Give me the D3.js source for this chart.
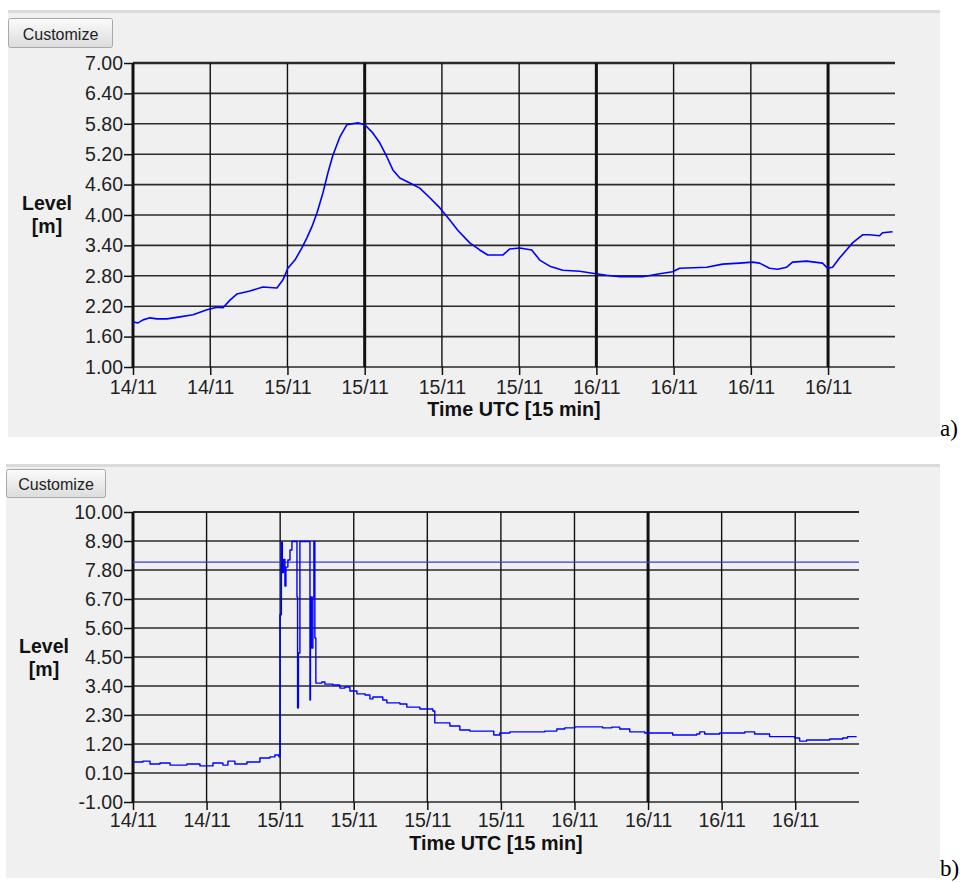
<!DOCTYPE html>
<html>
<head>
<meta charset="utf-8">
<script src="https://cdn.jsdelivr.net/npm/d3@7"></script>
<style>
  body { margin: 0; background: #fff; }
  #container { width: 960px; height: 882px; }
</style>
</head>
<body>
<div id="container"></div>
<script>
/**
 *
 * 数据
 *
 */
// 横轴刻度：每 6 小时一个刻度，单位为小时（从起点开始计）
const xTickHours = [0, 6, 12, 18, 24, 30, 36, 42, 48, 54];
const xTickLabels = ["14/11", "14/11", "15/11", "15/11", "15/11", "15/11", "16/11", "16/11", "16/11", "16/11"];
const xEnd = 59.2; // 横轴终点（小时）

// 图 a) 水位
const yTicksA = [1.0, 1.6, 2.2, 2.8, 3.4, 4.0, 4.6, 5.2, 5.8, 6.4, 7.0];
const hoursA = [
  0.00, 0.39, 0.78, 1.32, 1.86, 2.64, 3.65, 4.66, 5.75, 6.52, 6.99, 7.53, 8.07, 9.08,
  10.09, 11.18, 11.65, 12.03, 12.58, 13.12, 13.51, 13.90, 14.29, 14.75, 15.14, 15.53,
  16.07, 16.61, 17.47, 18.01, 18.63, 19.18, 19.72, 20.19, 20.73, 21.51, 22.28, 23.06,
  23.84, 24.61, 25.23, 26.16, 26.94, 27.56, 28.73, 29.27, 30.05, 30.98, 31.60, 32.38,
  33.39, 34.70, 35.71, 36.80, 37.81, 39.60, 40.92, 41.93, 42.47, 44.57, 45.81, 47.13,
  48.14, 48.68, 49.46, 50.08, 50.78, 51.24, 52.33, 53.57, 53.96, 54.35, 54.89, 55.43,
  55.90, 56.68, 57.22, 58.00, 58.23, 59.01
];
const levelA = [
  1.89, 1.87, 1.93, 1.97, 1.95, 1.95, 1.99, 2.03, 2.13, 2.18, 2.17, 2.32, 2.44, 2.50,
  2.58, 2.56, 2.72, 2.95, 3.11, 3.35, 3.55, 3.77, 4.04, 4.43, 4.83, 5.18,
  5.54, 5.78, 5.82, 5.78, 5.62, 5.42, 5.15, 4.89, 4.73, 4.63, 4.53, 4.34,
  4.14, 3.90, 3.70, 3.45, 3.31, 3.21, 3.21, 3.33, 3.35, 3.31, 3.11, 2.99,
  2.91, 2.89, 2.85, 2.81, 2.78, 2.78, 2.84, 2.88, 2.95, 2.97, 3.03, 3.05,
  3.07, 3.05, 2.95, 2.93, 2.97, 3.07, 3.09, 3.05, 2.95, 2.97, 3.15, 3.31,
  3.45, 3.61, 3.61, 3.59, 3.65, 3.67
];

// 图 b) 水位（含异常尖峰）
const yTicksB = [-1.0, 0.1, 1.2, 2.3, 3.4, 4.5, 5.6, 6.7, 7.8, 8.9, 10.0];
const thresholdB = 8.1;
const hoursB = [
  0.00, 0.81, 1.39, 2.20, 3.02, 4.40, 5.46, 6.52, 7.33, 7.74, 8.31, 9.29, 10.35, 11.17,
  11.57, 11.90, 11.98, 12.10, 12.18, 12.27, 12.39, 12.47, 12.63, 12.80, 12.96, 13.37,
  13.42, 13.49, 13.61, 14.43, 14.47, 14.55, 14.67, 14.75, 14.83, 14.91, 15.40, 15.65,
  16.30, 16.87, 17.28, 17.69, 18.26, 18.92, 19.32, 19.56, 20.37, 20.70, 21.76, 22.33,
  23.39, 24.45, 24.61, 25.26, 25.84, 26.65, 27.47, 29.10, 29.42, 29.91, 30.73, 33.58,
  34.56, 35.21, 36.02, 38.30, 39.04, 39.69, 40.51, 41.73, 44.01, 45.97, 46.21, 46.62,
  47.84, 49.88, 50.69, 51.91, 53.95, 54.36, 54.93, 56.81, 57.87, 58.27, 59.01
];
const levelB = [
  0.52, 0.55, 0.44, 0.48, 0.40, 0.44, 0.37, 0.48, 0.40, 0.55, 0.44, 0.52, 0.67, 0.71,
  0.78, 0.71, 6.10, 8.85, 7.70, 8.20, 7.19, 7.91, 8.18, 8.56, 8.88, 6.78,
  2.57, 4.65, 8.88, 2.87, 6.78, 4.84, 6.78, 8.88, 5.22, 3.51, 3.55, 3.47,
  3.44, 3.32, 3.36, 3.21, 3.10, 3.06, 2.91, 2.98, 2.87, 2.76, 2.72, 2.60,
  2.53, 2.45, 2.00, 2.00, 1.88, 1.73, 1.69, 1.69, 1.54, 1.62, 1.66, 1.69,
  1.77, 1.81, 1.85, 1.81, 1.84, 1.77, 1.66, 1.62, 1.54, 1.58, 1.66, 1.58,
  1.62, 1.66, 1.58, 1.48, 1.43, 1.31, 1.35, 1.39, 1.43, 1.48, 1.48
];

/**
 *
 * 绘制一个面板（背景、按钮、网格、坐标轴、曲线）
 *
 */
function LevelChart(svg, hours, levels, {
  panel, // 面板背景 [x0, y0, x1, y1]
  button, // 按钮 [x0, y0, x1, y1]
  plot, // 绘图区 {left, right, top, bottom}
  yTicks,
  majorX = [], // 较粗的竖向网格线（索引）
  curve = d3.curveLinear,
  threshold,
  levelX, // 纵轴标题位置
  levelY,
  tickLabelY = 27, // 横轴刻度值基线（相对于轴线）
  titleY, // 横轴标题基线
  tag, // a) / b)
  tagY,
  lineWidth = 1.6,
  gridWidth = 1.6,
  topWidth = 2.5
}) {
  const font = "'Liberation Sans', Arial, sans-serif";
  const g = svg.append("g");

  // 面板背景
  g.append("rect")
    .attr("x", panel[0]).attr("y", panel[1])
    .attr("width", panel[2] - panel[0]).attr("height", panel[3] - panel[1])
    .attr("fill", "#f0f0f0");
  g.append("rect")
    .attr("x", panel[0]).attr("y", panel[1])
    .attr("width", panel[2] - panel[0]).attr("height", 3)
    .attr("fill", "#dadada");

  // Customize 按钮
  g.append("rect")
    .attr("x", button[0] + 0.5).attr("y", button[1] + 0.5)
    .attr("width", button[2] - button[0] - 1).attr("height", button[3] - button[1] - 1)
    .attr("rx", 2)
    .attr("fill", "url(#btnGrad)")
    .attr("stroke", "#a9a9a9");
  g.append("text")
    .attr("x", (button[0] + button[2]) / 2)
    .attr("y", button[3] - 8)
    .attr("text-anchor", "middle")
    .attr("font-family", font)
    .attr("font-size", 16)
    .attr("fill", "#222")
    .text("Customize");

  // 比例尺
  const x = d3.scaleLinear([0, xEnd], [plot.left, plot.right]);
  const y = d3.scaleLinear(d3.extent(yTicks), [plot.bottom, plot.top]);

  // 水平网格线
  g.append("g")
    .selectAll("line")
    .data(yTicks)
    .join("line")
    .attr("x1", plot.left).attr("x2", plot.right)
    .attr("y1", (d) => y(d)).attr("y2", (d) => y(d))
    .attr("stroke", "#2a2a2a")
    .attr("stroke-width", (d, i) => (i === yTicks.length - 1 ? topWidth : gridWidth));

  // 竖向网格线
  g.append("g")
    .selectAll("line")
    .data(xTickHours)
    .join("line")
    .attr("x1", (d) => x(d)).attr("x2", (d) => x(d))
    .attr("y1", plot.top).attr("y2", plot.bottom)
    .attr("stroke", "#111")
    .attr("stroke-width", (d, i) => (i === 0 || majorX.includes(i) ? 3 : 1.4));

  // 纵坐标轴（刻度值用普通连字符作负号）
  g.append("g")
    .attr("transform", `translate(${plot.left},0)`)
    .call(d3.axisLeft(y).tickValues(yTicks).tickFormat((d) => d.toFixed(2)).tickSize(9).tickPadding(1))
    .call((g) => g.select(".domain").remove())
    .attr("font-family", font)
    .attr("font-size", 19.5)
    .call((g) => g.selectAll(".tick line").attr("stroke", "#111").attr("stroke-width", 1.5))
    .call((g) => g.selectAll(".tick text").attr("fill", "#222"));

  // 横坐标轴
  g.append("g")
    .attr("transform", `translate(0,${plot.bottom})`)
    .call(d3.axisBottom(x).tickValues(xTickHours).tickFormat((d, i) => xTickLabels[i]).tickSize(8))
    .call((g) => g.select(".domain").remove())
    .attr("font-family", font)
    .attr("font-size", 19.5)
    .call((g) => g.selectAll(".tick line").attr("stroke", "#111").attr("stroke-width", 1.5))
    .call((g) => g.selectAll(".tick text").attr("fill", "#222").attr("y", tickLabelY).attr("dy", null));

  // 阈值线
  if (threshold != null)
    g.append("line")
      .attr("x1", plot.left).attr("x2", plot.right)
      .attr("y1", y(threshold)).attr("y2", y(threshold))
      .attr("stroke", "#3b3bd6")
      .attr("stroke-width", 1.2);

  // 曲线
  const I = d3.range(hours.length);
  const line = d3.line()
    .curve(curve)
    .x((i) => x(hours[i]))
    .y((i) => y(levels[i]));
  g.append("path")
    .attr("fill", "none")
    .attr("stroke", "#0000ff")
    .attr("stroke-width", lineWidth)
    .attr("stroke-linejoin", "round")
    .attr("d", line(I));

  // 坐标轴标题
  g.append("text")
    .attr("x", (plot.left + plot.right) / 2)
    .attr("y", titleY)
    .attr("text-anchor", "middle")
    .attr("font-family", font)
    .attr("font-weight", "bold")
    .attr("font-size", 19.8)
    .attr("fill", "#111")
    .text("Time UTC [15 min]");
  const lv = g.append("text")
    .attr("text-anchor", "middle")
    .attr("font-family", font)
    .attr("font-weight", "bold")
    .attr("font-size", 19.5)
    .attr("fill", "#111");
  lv.append("tspan").attr("x", levelX).attr("y", levelY).text("Level");
  lv.append("tspan").attr("x", levelX).attr("y", levelY + 23).text("[m]");

  // 图编号
  g.append("text")
    .attr("x", 940)
    .attr("y", tagY)
    .attr("font-family", "'Liberation Serif', 'Times New Roman', serif")
    .attr("font-size", 23)
    .attr("fill", "#000")
    .text(tag);
}

/**
 *
 * 创建 svg
 *
 */
const width = 960;
const height = 882;
const svg = d3
  .select("#container")
  .append("svg")
  .attr("width", width)
  .attr("height", height)
  .attr("viewBox", [0, 0, width, height]);

// 按钮的渐变
const grad = svg.append("defs").append("linearGradient")
  .attr("id", "btnGrad")
  .attr("x1", 0).attr("y1", 0).attr("x2", 0).attr("y2", 1);
grad.append("stop").attr("offset", "0%").attr("stop-color", "#fbfbfb");
grad.append("stop").attr("offset", "100%").attr("stop-color", "#dcdcdc");

LevelChart(svg, hoursA, levelA, {
  panel: [8, 10, 940, 437],
  button: [8, 18, 113, 48],
  plot: { left: 133, right: 895, top: 63, bottom: 367 },
  yTicks: yTicksA,
  majorX: [3, 6, 9],
  levelX: 47,
  levelY: 210,
  titleY: 416,
  tag: "a)",
  tagY: 436
});

LevelChart(svg, hoursB, levelB, {
  panel: [6, 464, 940, 878],
  button: [6, 469, 106, 498],
  plot: { left: 133, right: 859, top: 512, bottom: 802 },
  yTicks: yTicksB,
  majorX: [7],
  curve: d3.curveStepAfter,
  threshold: thresholdB,
  levelX: 44,
  levelY: 653,
  tickLabelY: 25,
  titleY: 850,
  tag: "b)",
  tagY: 876,
  lineWidth: 1.4,
  gridWidth: 1.4,
  topWidth: 2
});
</script>
</body>
</html>
